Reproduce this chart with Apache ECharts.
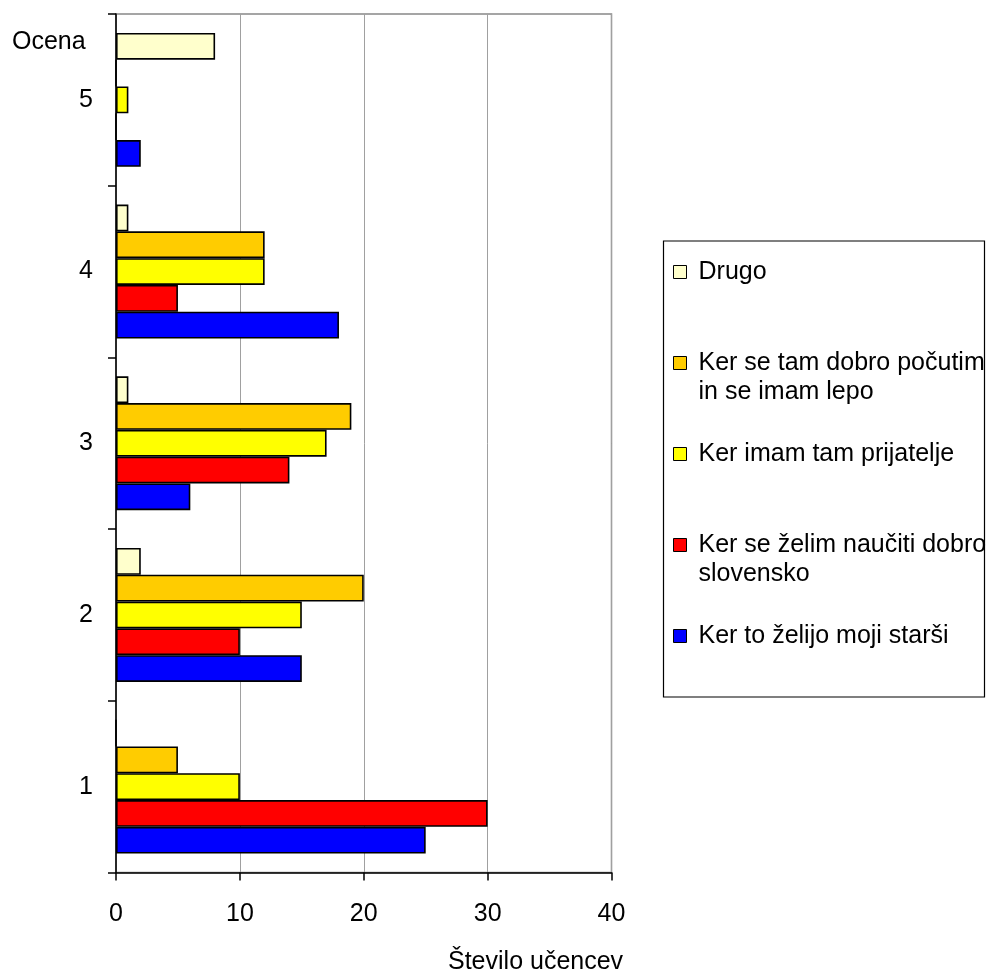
<!DOCTYPE html>
<html>
<head>
<meta charset="utf-8">
<style>
  html, body { margin: 0; padding: 0; background: #fff; }
  #chart { width: 987px; height: 971px; }
</style>
<script src="https://cdn.jsdelivr.net/npm/echarts@6/dist/echarts.min.js"></script>
</head>
<body>
<div id="chart"></div>
<script>
// Grades (Ocena) shown on the vertical axis, bottom to top
const categories = ['1', '2', '3', '4', '5'];

// Number of pupils per reason, one value per grade
const drugo      = [0, 2, 1, 1, 8];      // Drugo
const pocutim    = [5, 20, 19, 12, 0];   // Ker se tam dobro počutim in se imam lepo
const prijatelje = [10, 15, 17, 12, 1];  // Ker imam tam prijatelje
const slovensko  = [30, 10, 14, 5, 0];   // Ker se želim naučiti dobro slovensko
const starsi     = [25, 15, 6, 18, 2];   // Ker to želijo moji starši

// Series are listed top-down within each grade group
const seriesNames = [
  'Drugo',
  'Ker se tam dobro počutim\nin se imam lepo',
  'Ker imam tam prijatelje',
  'Ker se želim naučiti dobro\nslovensko',
  'Ker to želijo moji starši'
];
const seriesValues = [drugo, pocutim, prijatelje, slovensko, starsi];
const seriesColors = ['#FFFFCC', '#FFCC00', '#FFFF00', '#FF0000', '#0000FF'];

const xMin = 0, xMax = 40, xStep = 10;

const FONT = '"Liberation Sans", Arial, sans-serif';
const FS = 25;
const LH = 29;

// Every legend entry spans three text lines so the entries are evenly
// spaced and the swatch sits beside the first line of wrapped names.
function legendText(name) {
  return '\n' + name + (name.indexOf('\n') >= 0 ? '' : '\n');
}

const chart = echarts.init(document.getElementById('chart'), null, { renderer: 'canvas' });

const option = {
  animation: false,
  backgroundColor: '#ffffff',
  textStyle: { fontFamily: FONT, color: '#000' },
  title: [
    {
      text: 'Ocena',
      left: 12, top: 28,
      padding: 0,
      textStyle: { fontFamily: FONT, fontSize: FS, fontWeight: 'normal', color: '#000', lineHeight: LH }
    },
    {
      text: 'Število učencev',
      left: 448, top: 948,
      padding: 0,
      textStyle: { fontFamily: FONT, fontSize: FS, fontWeight: 'normal', color: '#000', lineHeight: LH }
    }
  ],
  grid: {
    left: 116, right: 375.5, top: 14, bottom: 98.5,
    show: true,
    borderColor: '#888888',
    borderWidth: 1.5,
    backgroundColor: 'transparent'
  },
  xAxis: {
    type: 'value',
    min: xMin, max: xMax, interval: xStep,
    axisLine: { show: true, lineStyle: { color: '#000', width: 1.5 } },
    axisTick: { show: true, length: 8, lineStyle: { color: '#000', width: 1.5 } },
    axisLabel: { fontFamily: FONT, fontSize: FS, color: '#000', margin: 29 },
    splitLine: { show: true, lineStyle: { color: '#a0a0a0', width: 1 } }
  },
  yAxis: {
    type: 'category',
    data: categories,
    axisLine: { show: true, lineStyle: { color: '#000', width: 1.5 } },
    axisTick: { show: true, length: 8, lineStyle: { color: '#000', width: 1.5 } },
    axisLabel: { fontFamily: FONT, fontSize: FS, color: '#000', margin: 23 },
    splitLine: { show: false }
  },
  legend: {
    orient: 'vertical',
    left: 673, top: 228.5,
    padding: 0,
    itemGap: 4,
    itemWidth: 13, itemHeight: 13,
    icon: 'rect',
    itemStyle: { borderColor: '#000', borderWidth: 1 },
    formatter: legendText,
    textStyle: { fontFamily: FONT, fontSize: FS, color: '#000', lineHeight: LH, padding: [0, 0, 0, 7] },
    data: seriesNames.slice()
  },
  graphic: [
    {
      type: 'rect',
      shape: { x: 663.5, y: 241, width: 321, height: 456 },
      style: { fill: 'none', stroke: '#000', lineWidth: 1.2 },
      silent: true,
      z: 0
    }
  ],
  series: seriesValues.map((vals, i) => ({
    name: seriesNames[i],
    type: 'bar',
    data: vals,
    barGap: 0,
    barCategoryGap: '22%',
    itemStyle: { color: seriesColors[i], borderColor: '#000', borderWidth: 1.6 }
  }))
};

chart.setOption(option);
</script>
</body>
</html>
